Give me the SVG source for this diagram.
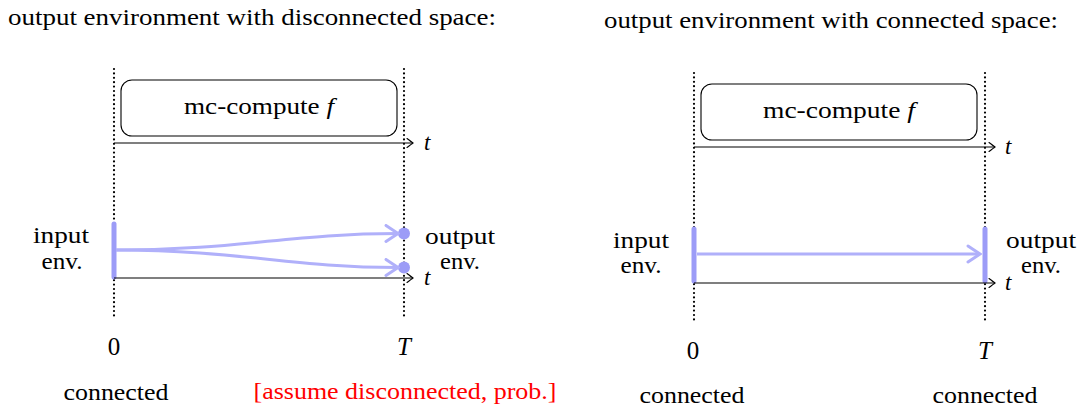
<svg xmlns="http://www.w3.org/2000/svg" width="1082" height="408" viewBox="0 0 1082 408" font-family="'Liberation Serif', 'DejaVu Serif', serif" font-size="23">
<style>
text{font-family:'Liberation Serif','DejaVu Serif',serif;font-size:23px;fill:#000}
.it{font-style:italic}
.mid{text-anchor:middle}
.big{font-size:25px}
.dot{stroke:#000;stroke-width:2.2;stroke-dasharray:0 4.4;stroke-linecap:round;fill:none}
.axis{stroke:#000;stroke-width:1.1;fill:none}
.box{fill:#fff;stroke:#000;stroke-width:1.1}
.bar{stroke:#9c9cf7;stroke-width:5;stroke-linecap:round}
.flow{stroke:#b0b0fa;stroke-width:3;fill:none}
.red{fill:#f00}
</style>
<defs>
<marker id="ah" viewBox="-8 -6 10 12" refX="0" refY="0" markerWidth="10" markerHeight="12" markerUnits="userSpaceOnUse" orient="auto">
<path d="M-6,-4.5 Q-1.5,-1 0,0 Q-1.5,1 -6,4.5" fill="none" stroke="#000" stroke-width="1.1" stroke-linecap="round"/>
</marker>
<marker id="bh" viewBox="-16 -10 18 20" refX="0" refY="0" markerWidth="18" markerHeight="20" markerUnits="userSpaceOnUse" orient="auto">
<path d="M-12,-8 Q-3,-2 0,0 Q-3,2 -12,8" fill="none" stroke="#b0b0fa" stroke-width="3" stroke-linecap="round"/>
</marker>
</defs>

<!-- Left panel -->
<g id="title-left"><text x="8" y="25" textLength="488" lengthAdjust="spacingAndGlyphs">output environment with disconnected space:</text></g>
<g id="left-guides">
<line class="dot" x1="114" y1="69" x2="114" y2="318"/>
<line class="dot" x1="404" y1="69" x2="404" y2="318"/>
</g>
<g id="left-compute">
<rect class="box" x="121" y="80" width="276" height="56" rx="11"/>
<text x="259" y="114" class="mid" textLength="150" lengthAdjust="spacingAndGlyphs">mc-compute <tspan class="it">f</tspan></text>
</g>
<g id="left-input"><line class="bar" x1="114" y1="224" x2="114" y2="277"/>
<text x="61" y="243" class="mid" textLength="56" lengthAdjust="spacingAndGlyphs">input</text><text x="62" y="269" class="mid" textLength="41" lengthAdjust="spacingAndGlyphs">env.</text></g>
<g id="left-output">
<circle cx="404" cy="233.5" r="6" fill="#9c9cf7"/>
<circle cx="404" cy="267.5" r="6" fill="#9c9cf7"/>
<text x="460" y="244" class="mid" textLength="70" lengthAdjust="spacingAndGlyphs">output</text><text x="460" y="269" class="mid" textLength="40" lengthAdjust="spacingAndGlyphs">env.</text></g>
<g id="left-labels">
<text x="114" y="355" class="mid big">0</text>
<text x="404" y="355" class="mid it big">T</text>
<text x="116" y="400" class="mid" textLength="105" lengthAdjust="spacingAndGlyphs">connected</text>
<text x="405" y="399" class="mid red" textLength="303" lengthAdjust="spacingAndGlyphs">[assume disconnected, prob.]</text>
</g>

<!-- Right panel -->
<g id="title-right"><text x="604" y="28" textLength="454" lengthAdjust="spacingAndGlyphs">output environment with connected space:</text></g>
<g id="right-guides">
<line class="dot" x1="694" y1="73" x2="694" y2="322"/>
<line class="dot" x1="985" y1="73" x2="985" y2="322"/>
</g>
<g id="right-compute">
<rect class="box" x="701" y="84" width="276" height="56" rx="11"/>
<text x="839" y="118" class="mid" textLength="152" lengthAdjust="spacingAndGlyphs">mc-compute <tspan class="it">f</tspan></text>
</g>
<g id="right-input"><line class="bar" x1="694" y1="229" x2="694" y2="281"/>
<text x="641" y="248" class="mid" textLength="56" lengthAdjust="spacingAndGlyphs">input</text><text x="641" y="273" class="mid" textLength="41" lengthAdjust="spacingAndGlyphs">env.</text></g>
<g id="right-output"><line class="bar" x1="985" y1="229" x2="985" y2="281"/>
<text x="1041" y="248" class="mid" textLength="70" lengthAdjust="spacingAndGlyphs">output</text><text x="1041" y="273" class="mid" textLength="40" lengthAdjust="spacingAndGlyphs">env.</text></g>
<g id="right-labels">
<text x="693" y="359" class="mid big">0</text>
<text x="985" y="359" class="mid it big">T</text>
<text x="692" y="403" class="mid" textLength="105" lengthAdjust="spacingAndGlyphs">connected</text>
<text x="985" y="403" class="mid" textLength="105" lengthAdjust="spacingAndGlyphs">connected</text>
</g>

<g id="connectors">
<line class="axis" x1="114" y1="143" x2="413" y2="143" marker-end="url(#ah)"/>
<text x="424" y="150" class="it">t</text>
<line class="axis" x1="114" y1="278" x2="413" y2="278" marker-end="url(#ah)"/>
<text x="424" y="285" class="it">t</text>
<path class="flow" d="M116,250 C240,250 290,233.5 398,233.5" marker-end="url(#bh)"/>
<path class="flow" d="M116,250 C240,250 290,267.5 398,267.5" marker-end="url(#bh)"/>
<line class="axis" x1="694" y1="147" x2="995" y2="147" marker-end="url(#ah)"/>
<text x="1005" y="154" class="it">t</text>
<line class="axis" x1="694" y1="283" x2="995" y2="283" marker-end="url(#ah)"/>
<text x="1005" y="290" class="it">t</text>
<line class="flow" x1="697" y1="254" x2="980" y2="254" marker-end="url(#bh)"/>
</g>
</svg>
